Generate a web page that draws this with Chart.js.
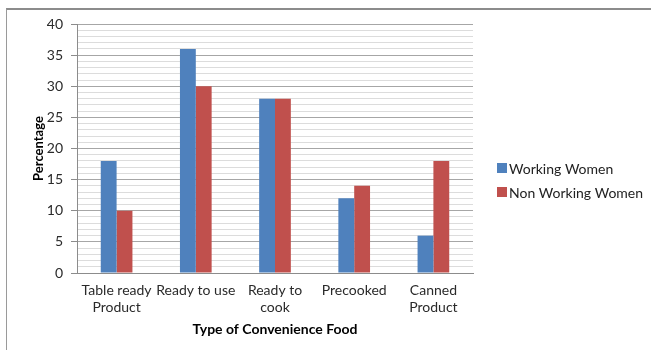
<!DOCTYPE html>
<html>
<head>
<meta charset="utf-8">
<script src="https://cdn.jsdelivr.net/npm/chart.js@4/dist/chart.umd.min.js"></script>
<style>
  html, body { margin: 0; padding: 0; background: #fff; }
  #wrap { position: relative; width: 651px; height: 350px; overflow: hidden; }
  #frame { position: absolute; left: 6px; top: 8px; right: -2px; bottom: -2px;
           border-top: 2px solid #8c8c8c; border-left: 1px solid #9a9a9a; }
  #myChart { position: absolute; left: 0; top: 0; }
</style>
</head>
<body>
<div id="wrap">
  <div id="frame"></div>
  <canvas id="myChart" width="651" height="350"></canvas>
</div>
<script>
const categories = [['Table ready', 'Product'], 'Ready to use', ['Ready to', 'cook'], 'Precooked', ['Canned', 'Product']];
const workingWomen    = [18, 36, 28, 12, 6];
const nonWorkingWomen = [10, 30, 28, 14, 18];
const yMax = 40;
const yMajorStep = 5;

const FONT = 'Lato, "Liberation Sans", sans-serif';

// legend drawn by hand at the right side of the plot
const sideLegend = {
	id: 'sideLegend',
	afterDraw(chart) {
		const ctx = chart.ctx;
		ctx.save();
		ctx.font = '14px ' + FONT;
		ctx.textBaseline = 'middle';
		chart.data.datasets.forEach(function (ds, i) {
			const y = 168 + i * 24;
			ctx.fillStyle = ds.backgroundColor;
			ctx.fillRect(497, y - 5, 10, 10);
			ctx.fillStyle = '#222';
			ctx.fillText(ds.label, 509, y + 1);
		});
		ctx.restore();
	}
};

const ctx = document.getElementById('myChart').getContext('2d');
const myChart = new Chart(ctx, {
	type: 'bar',
	data: {
		labels: categories,
		datasets: [{
			label: 'Working Women',
			data: workingWomen,
			backgroundColor: '#4F81BD',
			categoryPercentage: 0.4,
			barPercentage: 1.0
		}, {
			label: 'Non Working Women',
			data: nonWorkingWomen,
			backgroundColor: '#C0504D',
			categoryPercentage: 0.4,
			barPercentage: 1.0
		}]
	},
	options: {
		responsive: false,
		animation: false,
		layout: { padding: { top: 24, right: 178, bottom: 0, left: 27 } },
		plugins: {
			legend: { display: false },
			tooltip: { enabled: false }
		},
		scales: {
			x: {
				afterFit: function (scale) { scale.height = 77; },
				grid: { display: false, drawTicks: false },
				border: { color: '#8c8c8c' },
				ticks: {
					color: '#2a2a2a',
					font: { family: FONT, size: 14 },
					lineHeight: 1.15,
					padding: 9,
					maxRotation: 0,
					autoSkip: false
				},
				title: {
					display: true,
					text: 'Type of Convenience Food',
					color: '#000',
					font: { family: FONT, size: 14, weight: 'bold' },
					padding: { top: 4, bottom: 12 }
				}
			},
			y: {
				min: 0,
				max: yMax,
				afterFit: function (scale) { scale.width = 50; },
				border: { color: '#8c8c8c' },
				grid: {
					color: function (c) { return c.tick.value % yMajorStep === 0 ? '#a6a6a6' : '#dcdcdc'; },
					tickColor: function (c) { return c.tick.value % yMajorStep === 0 ? '#8c8c8c' : 'rgba(0,0,0,0)'; },
					tickLength: 6
				},
				ticks: {
					stepSize: 1,
					autoSkip: false,
					color: '#2a2a2a',
					padding: 8,
					font: { family: FONT, size: 14 },
					callback: function (v) { return v % yMajorStep === 0 ? v : ''; }
				},
				title: {
					display: true,
					text: 'Percentage',
					color: '#000',
					font: { family: FONT, size: 13, weight: 'bold' },
					padding: { bottom: 2 }
				}
			}
		}
	},
	plugins: [sideLegend]
});
</script>
</body>
</html>
